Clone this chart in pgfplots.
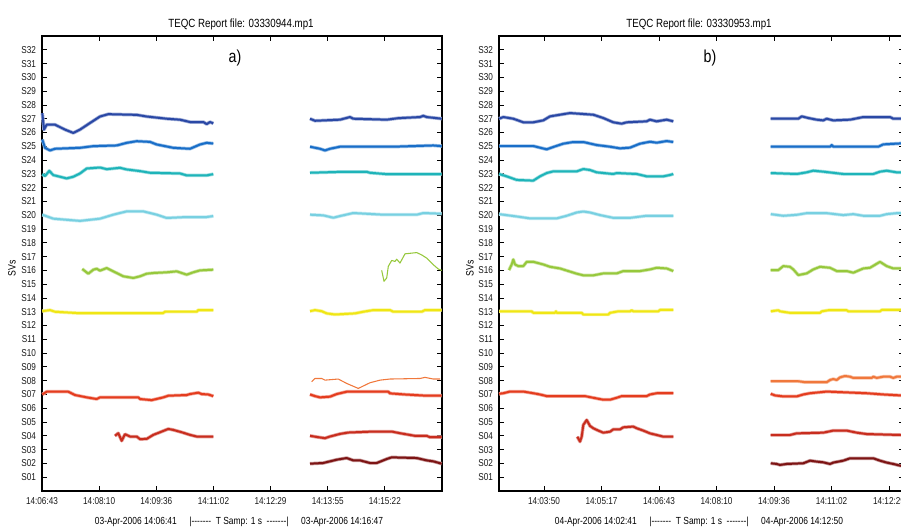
\documentclass[border=0pt]{standalone}
\usepackage{pgfplots}
\pgfplotsset{compat=1.18}
\usepackage{fontspec}
\setmainfont[FakeStretch=0.82]{Liberation Sans}
\definecolor{c27}{RGB}{42,72,165}
\definecolor{c25}{RGB}{25,110,200}
\definecolor{c23}{RGB}{30,180,185}
\definecolor{c20}{RGB}{120,208,225}
\definecolor{c16}{RGB}{150,200,60}
\definecolor{c13}{RGB}{240,230,20}
\definecolor{c08}{RGB}{240,120,60}
\definecolor{c07}{RGB}{228,60,30}
\definecolor{c04}{RGB}{200,45,30}
\definecolor{c02}{RGB}{125,20,20}
\pgfplotsset{
  teqc/.style={
    scale only axis, height=341.25pt,
    ymin=0, ymax=33,
    ytick={1,...,32},
    yticklabels={S01,S02,S03,S04,S05,S06,S07,S08,S09,S10,S11,S12,S13,S14,S15,S16,S17,S18,S19,S20,S21,S22,S23,S24,S25,S26,S27,S28,S29,S30,S31,S32},
    tick align=inside, major tick length=3.5pt,
    xtick pos=both, ytick pos=both, xticklabel pos=bottom, yticklabel pos=left,
    tick style={black, line width=0.6pt},
    axis line style={black, line width=0.8pt},
    tick label style={font=\fontsize{7.5}{8}\selectfont, text=black!90},
    yticklabel style={xshift=-1pt},
    xticklabel style={yshift=-1pt},
    anchor=south west, clip=false,
  },
  sv/.style={color=#1, line width=1.5pt, line join=round,
    preaction={draw, color=#1!45, line width=2.6pt}},
  svthin/.style={color=#1, line width=0.8pt, line join=round},
}
\begin{document}
\begin{tikzpicture}[x=0.75pt,y=0.75pt]
\useasboundingbox (0,0) rectangle (901,530);
% ---------------- panel a ----------------
\begin{axis}[teqc, at={(31.5pt,29.25pt)}, width=300pt, xmin=0, xmax=400,
  xtick={0,57.14,114.29,171.43,228.57,285.71,342.86},
  xticklabels={14:06:43,14:08:10,14:09:36,14:11:02,14:12:29,14:13:55,14:15:22}]
% S27
\addplot[sv=c27] coordinates {(0.3,27.40)(2,26.21)(4.7,26.57)(13,26.57)(23,26.21)(31.3,25.97)(38,26.21)(48,26.69)(58,27.16)(66.3,27.33)(94.7,27.28)(104.7,27.16)(124.7,27.00)(138,26.93)(148,26.76)(161.3,26.76)(164.7,26.61)(168,26.76)(171.3,26.66)};
\addplot[sv=c27] coordinates {(268,27.00)(273,26.85)(298,26.93)(308,27.12)(311.3,27.00)(344.7,26.93)(356.3,27.04)(378,27.12)(381.3,27.21)(384.7,27.12)(399.7,27.00)};
% S25
\addplot[sv=c25] coordinates {(0.3,25.49)(3,24.89)(8,24.70)(13,24.82)(38,24.89)(51.3,25.01)(74.7,25.06)(84.7,25.25)(94.7,25.37)(108,25.32)(114.7,25.13)(131.3,24.89)(148,24.82)(158,25.13)(164.7,25.25)(171.3,25.20)};
\addplot[sv=c25] coordinates {(268,24.97)(278,24.82)(283,24.70)(288,24.82)(298,24.97)(351.3,24.97)(391.3,25.06)(399.7,25.01)};
% S23
\addplot[sv=c23] coordinates {(0.3,22.98)(3,22.84)(7.3,23.22)(11.3,22.91)(24.7,22.67)(31.3,22.79)(38,23.03)(44.7,23.39)(58,23.46)(64.7,23.34)(78,23.44)(84.7,23.32)(98,23.20)(108,23.08)(138,23.03)(144.7,22.89)(164.7,22.89)(171.3,22.98)};
\addplot[sv=c23] coordinates {(268,23.08)(301.3,23.15)(324.7,23.15)(328,23.08)(344.7,22.98)(399.7,22.98)};
% S20
\addplot[sv=c20] coordinates {(0.3,20.04)(11.3,19.75)(38,19.59)(58,19.75)(71.3,20.04)(84.7,20.28)(101.3,20.28)(114.7,20.04)(124.7,19.80)(144.7,19.87)(164.7,19.87)(171.3,19.94)};
\addplot[sv=c20] coordinates {(268,20.04)(281.3,19.99)(291.3,19.82)(298,19.94)(311.3,20.16)(341.3,20.04)(374.7,20.04)(381.3,20.16)(399.7,20.11)};
% S16
\addplot[sv=c16] coordinates {(40.3,16.10)(46.3,15.76)(51.3,16.05)(54.7,16.12)(58,15.98)(64.7,16.17)(71.3,15.93)(81.3,15.57)(91.3,15.45)(98,15.57)(104.7,15.76)(111.3,15.81)(124.7,15.86)(134.7,15.93)(144.7,15.69)(151.3,15.86)(158,16.00)(171.3,16.05)};
\addplot[svthin=c16] coordinates {(339.7,16.00)(342,15.21)(344.7,15.45)(346.3,16.29)(349.7,16.72)(353,16.65)(354.7,16.81)(358,16.53)(363,17.20)(374.7,17.29)(379.7,17.12)(384.7,16.89)(391.3,16.41)(396.3,16.10)(399.7,16.00)};
% S13
\addplot[sv=c13] coordinates {(0.3,13.04)(8,13.12)(13,13.00)(36.3,12.90)(121,12.90)(123,13.00)(154.7,13.00)(156.3,13.12)(171.3,13.12)};
\addplot[sv=c13] coordinates {(268,13.04)(273,13.12)(279.7,13.04)(284.7,12.88)(293,12.80)(313,12.88)(321.3,13.00)(331.3,13.12)(348,13.12)(351.3,13.00)(379.7,13.00)(383,13.12)(399.7,13.12)};
% S08
\addplot[svthin=c08] coordinates {(269.7,7.92)(273,8.16)(279.7,8.16)(283,8.04)(296.3,8.12)(304.7,7.80)(316.3,7.44)(328,7.85)(338,8.04)(348,8.12)(378,8.16)(383,8.24)(391.3,8.12)(398,8.12)};
% S07
\addplot[sv=c07] coordinates {(0.3,7.00)(4.7,7.20)(26.3,7.20)(33,6.96)(44.7,6.79)(54.7,6.67)(58,6.79)(96.3,6.79)(98,6.67)(109.7,6.59)(121.3,6.79)(126.3,6.91)(144.7,6.96)(148,7.03)(156.3,7.13)(159.7,7.03)(166.3,7.00)(171.3,6.88)};
\addplot[sv=c07] coordinates {(268,7.00)(273,6.88)(278,6.79)(288,6.84)(294.7,7.03)(304.7,7.20)(346.3,7.20)(348,7.08)(363,7.00)(384.7,6.91)(399.7,6.91)};
% S04
\addplot[sv=c04] coordinates {(73,4.00)(76.3,4.19)(79.7,3.64)(83,4.12)(88,3.95)(94.7,3.95)(98,3.76)(104.7,3.78)(111.3,4.07)(118,4.26)(126.3,4.50)(131.3,4.43)(139.7,4.26)(148,4.07)(154.7,3.95)(171.3,3.95)};
\addplot[sv=c04] coordinates {(268,4.00)(276.3,3.90)(283,3.83)(288,3.95)(298,4.14)(306.3,4.24)(331.3,4.31)(349.7,4.31)(358,4.19)(373,4.00)(384.7,4.00)(388,3.90)(399.7,3.90)};
% S02
\addplot[sv=c02] coordinates {(268,1.98)(281.3,2.03)(288,2.15)(294.7,2.27)(304.7,2.39)(311.3,2.22)(318,2.22)(328,2.03)(334.7,2.03)(344.7,2.32)(349.7,2.44)(374.7,2.39)(384.7,2.22)(391.3,2.15)(399.7,1.98)};
\end{axis}
% ---------------- panel b ----------------
\begin{axis}[teqc, at={(374.25pt,29.25pt)}, width=303.75pt, xmin=0, xmax=405,
  xtick={45,102.5,160,217.5,275,332.5,390},
  xticklabels={14:03:50,14:05:17,14:06:43,14:08:10,14:09:36,14:11:02,14:12:29}]
% S27
\addplot[sv=c27] coordinates {(0,27.00)(4.3,27.12)(14.3,27.00)(24.3,26.74)(34.3,26.74)(44.3,26.88)(51,27.17)(61,27.29)(71,27.41)(94.3,27.29)(104.3,27.05)(114.3,26.74)(122.7,26.64)(127.7,26.74)(147.7,26.81)(151,26.93)(157.7,26.81)(167.7,26.93)(174.3,26.81)};
\addplot[sv=c27] coordinates {(271.7,27.00)(299.3,27.00)(302.7,27.17)(309.3,27.05)(317.7,26.93)(324.3,26.88)(327.7,27.00)(334.3,26.88)(351,26.93)(364.3,27.12)(391,27.12)(394.3,27.00)(402,27.00)};
% S25
\addplot[sv=c25] coordinates {(0,25.02)(34.3,25.02)(41,24.90)(47.7,24.78)(54.3,24.95)(64.3,25.19)(74.3,25.31)(84.3,25.31)(97.7,25.09)(111,24.97)(121,24.85)(131,24.90)(141,25.19)(151,25.33)(157.7,25.26)(167.7,25.38)(174.3,25.31)};
\addplot[sv=c25] coordinates {(271.7,24.97)(331,24.97)(332.7,25.09)(334.3,24.97)(379.3,24.97)(384.3,25.14)(402,25.21)};
% S23
\addplot[sv=c23] coordinates {(0,22.99)(7.7,22.82)(17.7,22.56)(34.3,22.51)(41,22.82)(47.7,23.06)(54.3,23.18)(77.7,23.18)(84.3,23.35)(91,23.28)(97.7,23.11)(114.3,22.99)(117.7,23.06)(137.7,22.99)(147.7,22.82)(164.3,22.82)(171,22.92)(174.3,22.99)};
\addplot[sv=c23] coordinates {(271.7,23.06)(297.7,22.99)(307.7,23.11)(314.3,23.23)(324.3,23.16)(344.3,22.99)(374.3,22.99)(381,23.16)(387.7,23.23)(397.7,23.11)(402,23.11)};
% S20
\addplot[sv=c20] coordinates {(0,20.08)(17.7,19.91)(31,19.77)(57.7,19.77)(67.7,19.96)(77.7,20.20)(84.3,20.27)(91,20.20)(101,20.01)(114.3,19.81)(131,19.81)(147.7,19.96)(174.3,19.96)};
\addplot[sv=c20] coordinates {(271.7,20.08)(284.3,19.96)(297.7,20.03)(307.7,20.15)(327.7,20.15)(344.3,20.01)(354.3,20.08)(364.3,19.96)(381,19.96)(387.7,20.08)(397.7,20.15)(402,20.15)};
% S16
\addplot[sv=c16] coordinates {(10,16.02)(12.7,16.43)(14.3,16.79)(16,16.43)(19.3,16.31)(24.3,16.31)(27.7,16.62)(34.3,16.62)(44.3,16.43)(51,16.26)(61,16.14)(77.7,15.76)(84.3,15.64)(94.3,15.64)(104.3,15.78)(117.7,15.78)(124.3,15.95)(141,15.95)(151,16.07)(157.7,16.19)(167.7,16.14)(174.3,15.95)};
\addplot[sv=c16] coordinates {(271.7,16.02)(279.3,16.02)(284.3,16.31)(291,16.26)(294.3,16.07)(299.3,15.66)(307.7,15.78)(314.3,16.07)(321,16.26)(331,16.19)(337.7,15.95)(347.7,15.95)(354.3,15.83)(364.3,16.14)(371,16.19)(381,16.62)(387.7,16.31)(394.3,16.14)(402,16.14)};
% S13
\addplot[sv=c13] coordinates {(0,13.03)(32.7,13.03)(34.3,12.92)(56,12.92)(57,13.03)(57.7,12.92)(82.7,12.92)(84.3,12.80)(109.3,12.80)(111,12.92)(119.3,13.03)(131,13.03)(132.7,13.11)(134.3,13.03)(159.3,13.03)(161,13.13)(174.3,13.13)};
\addplot[sv=c13] coordinates {(271.7,13.03)(279.3,13.11)(281,13.03)(291,12.92)(321,12.92)(322.7,13.03)(329.3,13.11)(347.7,13.11)(349.3,13.03)(381,13.03)(382.7,13.13)(402,13.13)};
% S08
\addplot[sv=c08] coordinates {(271.7,7.96)(299.3,7.96)(306,7.89)(327.7,7.89)(331,8.05)(334.3,8.12)(337.7,8.05)(341,8.24)(346,8.34)(351,8.29)(354.3,8.20)(372.7,8.20)(374.3,8.29)(377.7,8.20)(384.3,8.29)(391,8.29)(394.3,8.20)(397.7,8.29)(402,8.29)};
% S07
\addplot[sv=c07] coordinates {(0,7.05)(4.3,7.09)(11,7.21)(24.3,7.21)(34.3,7.09)(41,7.00)(47.7,6.88)(86,6.88)(94.3,6.76)(104.3,6.62)(111,6.62)(117.7,6.76)(122.7,6.88)(147.7,6.88)(151,7.00)(157.7,7.09)(174.3,7.09)};
\addplot[sv=c07] coordinates {(271.7,7.05)(276,6.93)(284.3,6.86)(297.7,6.86)(304.3,7.00)(311,7.09)(327.7,7.21)(341,7.17)(367.7,7.09)(384.3,7.00)(402,6.93)};
% S04
\addplot[sv=c04] coordinates {(78.3,3.94)(81,3.58)(82.7,3.94)(84.3,4.79)(87.7,5.15)(91,4.72)(94.3,4.55)(99.3,4.38)(104.3,4.23)(111,4.30)(114.3,4.47)(121,4.47)(124.3,4.62)(134.3,4.67)(137.7,4.55)(144.3,4.38)(151,4.18)(157.7,4.06)(164.3,3.94)(174.3,3.94)};
\addplot[sv=c04] coordinates {(271.7,4.06)(291,4.06)(297.7,4.18)(324.3,4.23)(334.3,4.38)(347.7,4.38)(357.7,4.23)(367.7,4.13)(402,4.06)};
% S02
\addplot[sv=c02] coordinates {(271.7,2.01)(277.7,1.96)(281,1.89)(287.7,1.96)(304.3,2.01)(311,2.20)(317.7,2.13)(324.3,2.08)(331,1.96)(334.3,2.06)(344.3,2.20)(351,2.37)(374.3,2.37)(381,2.20)(387.7,2.06)(394.3,1.96)(402,1.82)};
\end{axis}
% ---------------- texts ----------------
\node[font=\fontsize{8.9}{10}\selectfont] at (241,506) {TEQC Report file: 03330944.mp1};
\node[font=\fontsize{8.9}{10}\selectfont] at (699,506) {TEQC Report file: 03330953.mp1};
\node[font=\fontsize{13}{14}\selectfont] at (235,472) {a)};
\node[font=\fontsize{13}{14}\selectfont] at (710,472) {b)};
\node[font=\fontsize{8}{9}\selectfont, rotate=90] at (12,262) {SVs};
\node[font=\fontsize{8}{9}\selectfont, rotate=90] at (470,262) {SVs};
\node[font=\fontsize{7.7}{8}\selectfont] at (239,8) {03-Apr-2006 14:06:41\quad\ |-{}-{}-{}-{}-{}-{}-\ \ T Samp: 1 s\ \ -{}-{}-{}-{}-{}-{}-|\quad\ 03-Apr-2006 14:16:47};
\node[font=\fontsize{7.7}{8}\selectfont] at (699,8) {04-Apr-2006 14:02:41\quad\ |-{}-{}-{}-{}-{}-{}-\ \ T Samp: 1 s\ \ -{}-{}-{}-{}-{}-{}-|\quad\ 04-Apr-2006 14:12:50};
\end{tikzpicture}
\end{document}
